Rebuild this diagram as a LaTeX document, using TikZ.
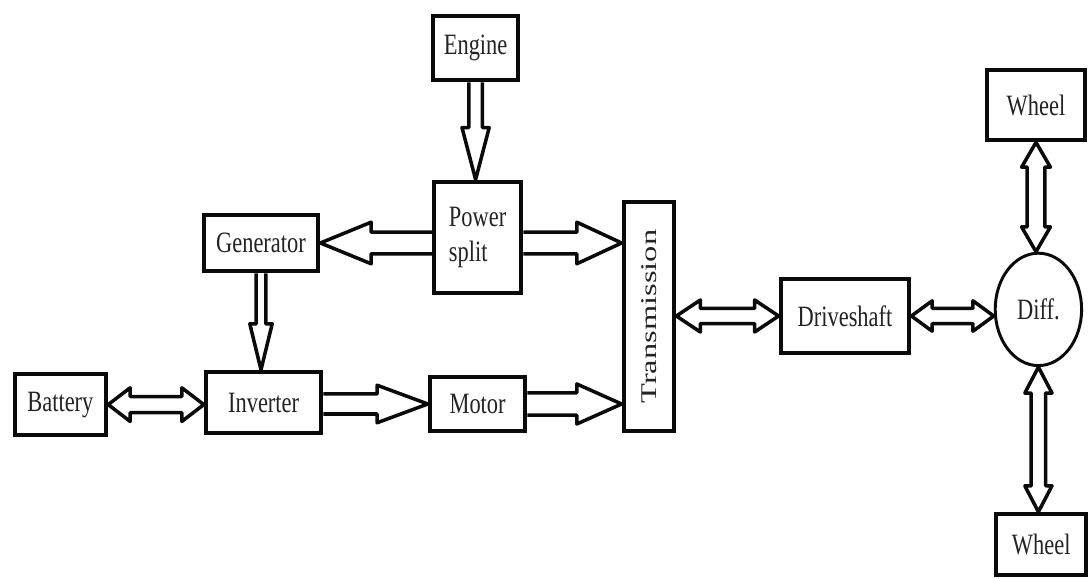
\documentclass[tikz,border=0pt]{standalone}
\usepackage{fontspec}
\setmainfont{Liberation Serif}
\usepackage{graphicx}
\usetikzlibrary{calc,shapes.geometric}
\definecolor{ink}{RGB}{10,10,10}
\definecolor{label}{RGB}{35,35,35}

% narrow label text
\newcommand{\sq}[1]{\scalebox{0.76}[1]{#1}}

% hollow one-way arrow: from, to, shaft half width, head half width, head length
\newcommand{\flow}[5]{%
  \coordinate (hb) at ($(#2)!#5!(#1)$);
  \draw[flowline] ($(#1)!#3!90:(#2)$) -- ($(hb)!#3!-90:(#1)$) -- ($(hb)!#4!-90:(#1)$)
    -- (#2) -- ($(hb)!#4!90:(#1)$) -- ($(hb)!#3!90:(#1)$) -- ($(#1)!#3!-90:(#2)$);
}

% hollow two-way arrow, same arguments
\newcommand{\biflow}[5]{%
  \coordinate (ha) at ($(#1)!#5!(#2)$);
  \coordinate (hb) at ($(#2)!#5!(#1)$);
  \draw[flowline] (#1) -- ($(ha)!#4!90:(#2)$) -- ($(ha)!#3!90:(#2)$)
    -- ($(hb)!#3!-90:(#1)$) -- ($(hb)!#4!-90:(#1)$) -- (#2)
    -- ($(hb)!#4!90:(#1)$) -- ($(hb)!#3!90:(#1)$)
    -- ($(ha)!#3!-90:(#2)$) -- ($(ha)!#4!-90:(#2)$) -- cycle;
}

\begin{document}
\begin{tikzpicture}[
  block/.style={draw=ink, line width=2.8pt, inner sep=0pt, font=\fontsize{21}{25}\selectfont, text=label},
  flowline/.style={draw=ink, line width=2.5pt, line join=round}
]
  \useasboundingbox (0,0) rectangle (27.2,14.475);

  % Engine side
  \node[block, minimum width=2.14cm, minimum height=1.62cm] (engine) at (11.89,13.275) {\sq{Engine}};
  \node[block, minimum width=2.19cm, minimum height=2.79cm, align=left] (psplit) at (11.94,8.54) {\sq{Power}\\\sq{split}};
  \node[block, minimum width=2.87cm, minimum height=1.42cm] (gen) at (6.525,8.4) {\sq{Generator}};

  % Electric path
  \node[block, minimum width=2.29cm, minimum height=1.54cm] (battery) at (1.51,4.36) {\sq{Battery}};
  \node[block, minimum width=2.89cm, minimum height=1.54cm] (inverter) at (6.59,4.41) {\sq{Inverter}};
  \node[block, minimum width=2.39cm, minimum height=1.37cm] (motor) at (11.94,4.375) {\sq{Motor}};

  % Driveline
  \node[block, minimum width=1.27cm, minimum height=5.74cm] (trans) at (16.225,6.56) {\scalebox{0.76}[1.1]{\rotatebox{90}{Transmission}}};
  \node[block, minimum width=3.22cm, minimum height=1.87cm] (drive) at (21.125,6.575) {\sq{Driveshaft}};
  \node[block, ellipse, line width=2.1pt, minimum width=2.16cm, minimum height=2.81cm] (diff) at (25.96,6.74) {\sq{Diff.}};
  \node[block, minimum width=2.47cm, minimum height=1.77cm] (wheelT) at (25.9,11.85) {\sq{Wheel}};
  \node[block, minimum width=2.24cm, minimum height=1.54cm] (wheelB) at (26.03,0.86) {\sq{Wheel}};

  % Arrows
  \flow{engine.south}{engine.south |- psplit.north}{0.17cm}{0.34cm}{1.3cm}
  \flow{psplit.west |- gen.east}{gen.east}{0.27cm}{0.52cm}{1.27cm}
  \flow{psplit.east |- gen.east}{trans.west |- gen.east}{0.27cm}{0.52cm}{1.12cm}
  \flow{gen.south}{gen.south |- inverter.north}{0.12cm}{0.28cm}{1.15cm}
  \biflow{battery.east}{inverter.west |- battery.east}{0.2cm}{0.42cm}{0.55cm}
  \flow{inverter.east |- motor.west}{motor.west}{0.25cm}{0.47cm}{1.27cm}
  \flow{motor.east}{trans.west |- motor.east}{0.28cm}{0.5cm}{1.12cm}
  \biflow{trans.east |- drive.west}{drive.west}{0.19cm}{0.4cm}{0.6cm}
  \biflow{drive.east}{diff.west |- drive.east}{0.19cm}{0.38cm}{0.52cm}
  \biflow{wheelT.south}{wheelT.south |- diff.north}{0.22cm}{0.36cm}{0.62cm}
  \biflow{diff.south}{diff.south |- wheelB.north}{0.18cm}{0.34cm}{0.65cm}
\end{tikzpicture}
\end{document}
